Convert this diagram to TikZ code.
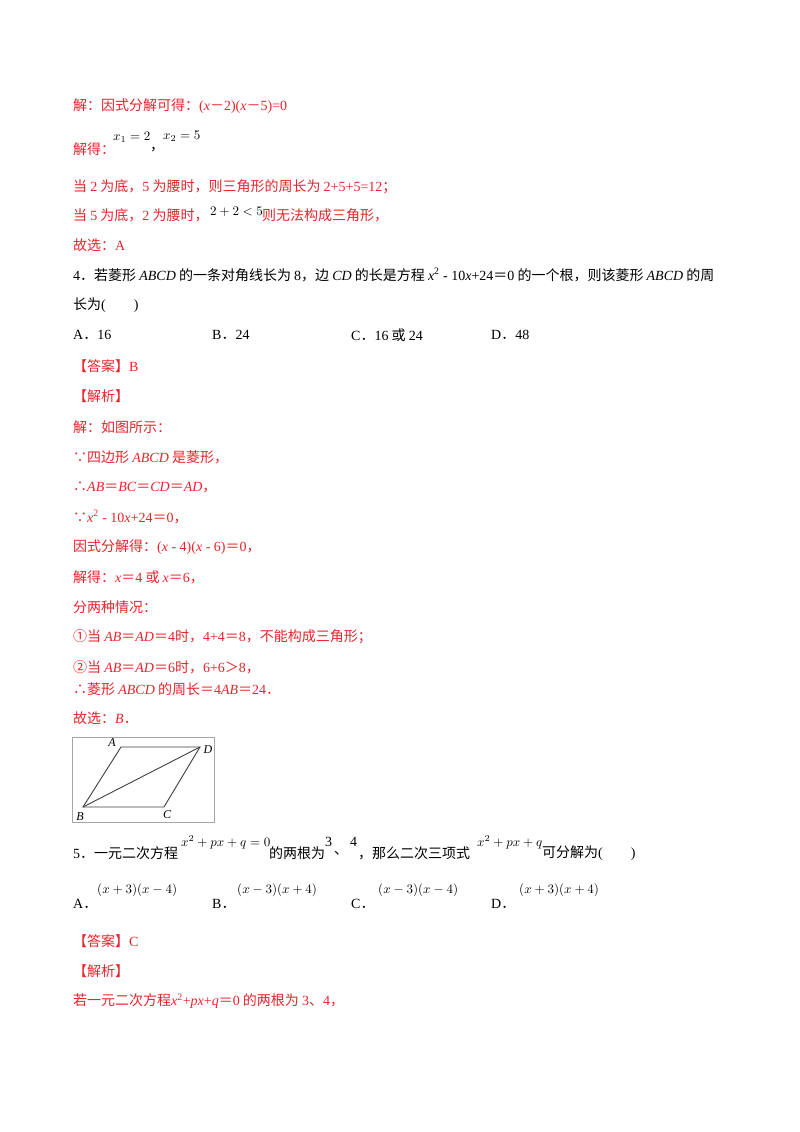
\documentclass[tikz,border=0pt]{standalone}
\usepackage{fontspec}
\usepackage{graphicx}
\setmainfont{Noto Sans CJK SC}
\newfontfamily\lf{Liberation Serif}
\definecolor{rd}{HTML}{E8242C}
\newcommand{\mm}[1]{\scalebox{1.3}{$#1$}}
\begin{document}
\begin{tikzpicture}[x=1pt,y=-1pt,
  t/.style={anchor=west,inner sep=0,font=\fontsize{14}{16}\selectfont},
  r/.style={t,text=rd},
  m/.style={anchor=west,inner sep=0},
  lab/.style={font=\lf\itshape\fontsize{12}{14}\selectfont,inner sep=0},
  edge/.style={line width=0.9pt,draw=black!75}]
\useasboundingbox[fill=white] (0,0) rectangle (800,1132);
\node[r] (l1) at (73,106) {解：因式分解可得：{\lf(\textit{x}}－{\lf2)(\textit{x}}－{\lf5)=0}};
\node[r] (l2) at (73,149) {解得：};
\node[m] (l2a) at (113,137) {\mm{x_1=2}};
\node[t] (l2b) at (150,150) {，};
\node[m] (l2c) at (163,136) {\mm{x_2=5}};
\node[r] (l3) at (73,187) {当 {\lf 2} 为底，{\lf 5} 为腰时，则三角形的周长为 {\lf 2+5+5=12}；};
\node[r] (l4) at (73,215) {当 {\lf 5} 为底，{\lf 2} 为腰时，};
\node[m] (l4a) at (210,212) {\mm{2+2<5}};
\node[r] (l4b) at (262,215) {则无法构成三角形，};
\node[r] (l5) at (73,245) {故选：{\lf A}};
\node[t] (q4) at (73,275) {{\lf 4}．若菱形 {\lf\textit{ABCD}} 的一条对角线长为 {\lf 8}，边 {\lf\textit{CD}} 的长是方程 {\lf\textit{x}\textsuperscript{2} - 10\textit{x}+24}＝{\lf 0} 的一个根，则该菱形 {\lf\textit{ABCD}} 的周};
\node[t] (q4b) at (73,305) {长为{\lf(\qquad)}};
\node[t] (oA) at (73,335) {{\lf A}．{\lf 16}};
\node[t] (oB) at (212,335) {{\lf B}．{\lf 24}};
\node[t] (oC) at (351,335) {{\lf C}．{\lf 16} 或 {\lf 24}};
\node[t] (oD) at (491,335) {{\lf D}．{\lf 48}};
\node[r] (a1) at (73,366) {【答案】{\lf B}};
\node[r] (a2) at (73,396) {【解析】};
\node[r] (a3) at (73,427) {解：如图所示：};
\node[r] (a4) at (73,457) {∵四边形 {\lf\textit{ABCD}} 是菱形，};
\node[r] (a5) at (73,487) {∴{\lf\textit{AB}}＝{\lf\textit{BC}}＝{\lf\textit{CD}}＝{\lf\textit{AD}}，};
\node[r] (a6) at (73,517) {∵{\lf\textit{x}\textsuperscript{2} - 10\textit{x}+24}＝{\lf 0}，};
\node[r] (a7) at (73,547) {因式分解得：{\lf(\textit{x} - 4)(\textit{x} - 6)}＝{\lf 0}，};
\node[r] (a8) at (73,577) {解得：{\lf\textit{x}}＝{\lf 4} 或 {\lf\textit{x}}＝{\lf 6}，};
\node[r] (a9) at (73,607) {分两种情况：};
\node[r] (a10) at (73,637) {①当 {\lf\textit{AB}}＝{\lf\textit{AD}}＝{\lf 4}时，{\lf 4+4}＝{\lf 8}，不能构成三角形；};
\node[r] (a11) at (73,667) {②当 {\lf\textit{AB}}＝{\lf\textit{AD}}＝{\lf 6}时，{\lf 6+6}＞{\lf 8}，};
\node[r] (a12) at (73,689) {∴菱形 {\lf\textit{ABCD}} 的周长＝{\lf 4\textit{AB}}＝{\lf 24}．};
\node[r] (a13) at (73,718) {故选：{\lf\textit{B}}．};
% figure
\node[draw=black!35,line width=0.8pt,minimum width=142,minimum height=85,anchor=north west,inner sep=0] (box) at (72,737) {};
\coordinate (A) at (121,747);
\coordinate (D) at (200,747);
\coordinate (B) at (83,807);
\coordinate (C) at (164,807);
\draw[edge] (A) -- (D) -- (C) -- (B) -- cycle;
\draw[edge] (B) -- (D);
\node[lab] (la) at (112,743) {A};
\node[lab] (ld) at (208,750) {D};
\node[lab] (lb) at (80,817) {B};
\node[lab] (lc) at (167,815) {C};
% q5
\node[t] (q5) at (73,853) {{\lf 5}．一元二次方程};
\node[m] (q5a) at (181,842) {\mm{x^2+px+q=0}};
\node[t] (q5b) at (269,853) {的两根为};
\node[t,font=\lf\fontsize{14}{15}\selectfont] (q5c) at (325,842) {3};
\node[t] (q5d) at (334,853) {、};
\node[t,font=\lf\fontsize{14}{15}\selectfont] (q5e) at (350,842) {4};
\node[t] (q5f) at (358,853) {，那么二次三项式};
\node[m] (q5g) at (477,842) {\mm{x^2+px+q}};
\node[t] (q5h) at (542,853) {可分解为{\lf(\qquad)}};
\node[t] (pA) at (73,904) {{\lf A}．};
\node[m] (pAe) at (97,890) {\mm{(x+3)(x-4)}};
\node[t] (pB) at (212,904) {{\lf B}．};
\node[m] (pBe) at (237,890) {\mm{(x-3)(x+4)}};
\node[t] (pC) at (351,904) {{\lf C}．};
\node[m] (pCe) at (378,890) {\mm{(x-3)(x-4)}};
\node[t] (pD) at (491,904) {{\lf D}．};
\node[m] (pDe) at (519,890) {\mm{(x+3)(x+4)}};
\node[r] (b1) at (73,941) {【答案】{\lf C}};
\node[r] (b2) at (73,971) {【解析】};
\node[r] (b3) at (73,1001) {若一元二次方程{\lf\textit{x}\textsuperscript{2}+\textit{px}+\textit{q}}＝{\lf 0} 的两根为 {\lf 3}、{\lf 4}，};
\end{tikzpicture}
\end{document}
